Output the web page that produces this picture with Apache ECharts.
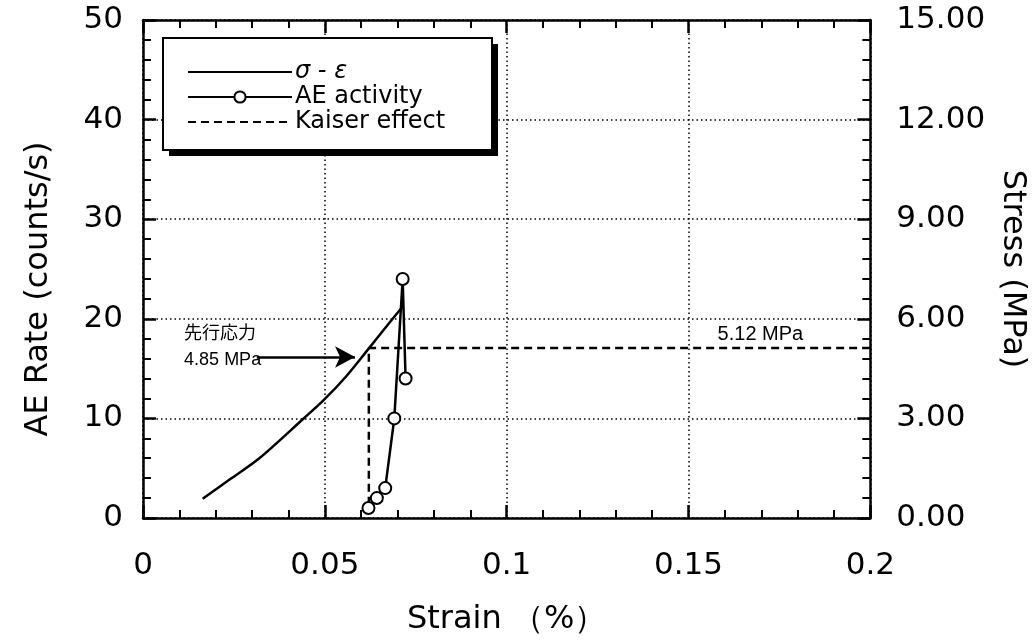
<!DOCTYPE html>
<html>
<head>
<meta charset="utf-8">
<script src="https://cdn.jsdelivr.net/npm/echarts@6/dist/echarts.min.js"></script>
<style>
html,body{margin:0;padding:0;background:#fff;}
#c{width:1036px;height:641px;}
</style>
</head>
<body>
<div id="c"></div>
<script>
// ---- data ----
var stressStrainStrain = [0.0164, 0.0241, 0.0319, 0.0441, 0.0496, 0.0559, 0.0619, 0.0682, 0.0712];
var stressStrainStress = [0.58, 1.18, 1.79, 2.99, 3.54, 4.27, 5.08, 5.94, 6.34];
var aeStrain = [0.0620, 0.0643, 0.0666, 0.0691, 0.0714, 0.0722];
var aeRate = [1, 2, 3, 10, 24, 14];
var kaiserStrain = [0.0621, 0.0621, 0.2];
var kaiserStress = [0.4, 5.12, 5.12];
var xTicks = [0, 0.05, 0.1, 0.15, 0.2];
var leftTicks = [0, 10, 20, 30, 40, 50];
var rightTicks = [0, 3, 6, 9, 12, 15];
var seriesNames = ['σ - ε', 'AE activity', 'Kaiser effect'];
var preStressLabel = ['先行応力', '4.85 MPa'];
var preStress = 4.85;
var kaiserLabel = '5.12 MPa';

function zip(a, b) { return a.map(function (v, i) { return [v, b[i]]; }); }

var FONT = 'DejaVu Sans';
var FS = 31;
var NFS = 32;
var chart = echarts.init(document.getElementById('c'));

var axisCommon = {
  axisLine: { show: true, onZero: false, lineStyle: { color: '#000', width: 2.5 } },
  axisTick: { show: true, inside: true, length: 13, lineStyle: { color: '#000', width: 2.5 } },
  minorTick: { show: true, splitNumber: 5, length: 8, lineStyle: { color: '#000', width: 2 } }
};

chart.setOption({
  animation: false,
  backgroundColor: '#fff',
  grid: { left: 143, right: 159, top: 20, bottom: 113, containLabel: false },
  xAxis: [
    Object.assign({
      type: 'value', position: 'bottom', min: xTicks[0], max: xTicks[xTicks.length - 1], interval: xTicks[1] - xTicks[0],
      axisLabel: { color: '#000', fontSize: FS, fontFamily: FONT, margin: 32 },
      splitLine: { show: true, lineStyle: { color: '#000', width: 1.5, type: [1.5, 3] } },
      name: 'Strain （%）', nameLocation: 'middle', nameGap: 86,
      nameTextStyle: { color: '#000', fontSize: NFS, fontFamily: FONT }
    }, axisCommon),
    Object.assign({
      type: 'value', position: 'top', min: xTicks[0], max: xTicks[xTicks.length - 1], interval: xTicks[1] - xTicks[0],
      axisLabel: { show: false }, splitLine: { show: false }
    }, axisCommon)
  ],
  yAxis: [
    Object.assign({
      type: 'value', position: 'left', min: leftTicks[0], max: leftTicks[leftTicks.length - 1], interval: leftTicks[1] - leftTicks[0],
      axisLabel: { color: '#000', fontSize: FS, fontFamily: FONT, margin: 20 },
      splitLine: { show: true, lineStyle: { color: '#000', width: 1.5, type: [1.5, 3] } },
      name: 'AE Rate (counts/s)', nameLocation: 'middle', nameGap: 88,
      nameTextStyle: { color: '#000', fontSize: NFS, fontFamily: FONT, padding: [0, 0, 0, -40] }
    }, axisCommon),
    Object.assign({
      type: 'value', position: 'right', min: rightTicks[0], max: rightTicks[rightTicks.length - 1], interval: rightTicks[1] - rightTicks[0],
      axisLabel: { color: '#000', fontSize: FS, fontFamily: FONT, margin: 26, formatter: function (v) { return v.toFixed(2); } },
      splitLine: { show: false },
      name: 'Stress (MPa)', nameLocation: 'middle', nameGap: 124, nameRotate: -90,
      nameTextStyle: { color: '#000', fontSize: NFS, fontFamily: FONT }
    }, axisCommon)
  ],
  legend: {
    orient: 'vertical', left: 182, top: 55, itemWidth: 104, itemHeight: 14, itemGap: 1,
    data: [
      { name: seriesNames[0], itemStyle: { opacity: 0 } },
      { name: seriesNames[1] },
      { name: seriesNames[2], itemStyle: { opacity: 0 } }
    ],
    formatter: function (n) { return n === seriesNames[0] ? '{i|' + n + '}' : n; },
    textStyle: { color: '#000', fontSize: 24, fontFamily: FONT, padding: [0, 0, 0, -2],
      rich: { i: { fontStyle: 'italic', fontSize: 24, fontFamily: FONT, color: '#000' } } }
  },
  graphic: [
    { type: 'rect', z: 3, shape: { x: 169, y: 44, width: 329, height: 112 }, style: { fill: '#000' } },
    { type: 'rect', z: 3, shape: { x: 163, y: 38, width: 329, height: 112 }, style: { fill: '#fff', stroke: '#000', lineWidth: 2 } }
  ],
  series: [
    {
      name: seriesNames[0], type: 'line', xAxisIndex: 0, yAxisIndex: 1, symbol: 'none', smooth: 0.3, z: 4,
      data: zip(stressStrainStrain, stressStrainStress),
      lineStyle: { color: '#000', width: 2.5 }, itemStyle: { color: '#000' },
      markLine: {
        silent: true, symbol: ['none', 'arrow'], symbolSize: [16, 20],
        lineStyle: { color: '#000', width: 2.5, type: 'solid' }, label: { show: false },
        data: [[{ coord: [0.0313, preStress] }, { coord: [0.0583, preStress] }]]
      }
    },
    {
      name: seriesNames[1], type: 'line', xAxisIndex: 0, yAxisIndex: 0, symbol: 'circle', symbolSize: 12, z: 6,
      data: zip(aeStrain, aeRate),
      lineStyle: { color: '#000', width: 2.5 },
      itemStyle: { color: '#fff', borderColor: '#000', borderWidth: 2 }
    },
    {
      name: seriesNames[2], type: 'line', xAxisIndex: 0, yAxisIndex: 1, symbol: 'none', z: 4,
      data: zip(kaiserStrain, kaiserStress),
      lineStyle: { color: '#000', width: 2.5, type: [8, 5] }, itemStyle: { color: '#000' }
    }
  ]
});

// annotation texts positioned through the chart's scales
var p1 = chart.convertToPixel({ xAxisIndex: 0, yAxisIndex: 1 }, [0.0113, preStress]);
var p2 = chart.convertToPixel({ xAxisIndex: 0, yAxisIndex: 1 }, [0.158, 5.12]);
chart.setOption({
  graphic: [
    { type: 'rect', z: 3, shape: { x: 169, y: 44, width: 329, height: 112 }, style: { fill: '#000' } },
    { type: 'rect', z: 3, shape: { x: 163, y: 38, width: 329, height: 112 }, style: { fill: '#fff', stroke: '#000', lineWidth: 2 } },
    { type: 'text', z: 5, x: p1[0], y: p1[1] - 25, style: { text: preStressLabel[0], fill: '#000', font: '18px "Noto Sans CJK JP"', textVerticalAlign: 'middle' } },
    { type: 'text', z: 5, x: p1[0], y: p1[1] + 3, style: { text: preStressLabel[1], fill: '#000', font: '18px "Liberation Sans"', textVerticalAlign: 'middle' } },
    { type: 'text', z: 5, x: p2[0], y: p2[1] - 14, style: { text: kaiserLabel, fill: '#000', font: '20px "Liberation Sans"', textVerticalAlign: 'middle' } }
  ]
});
</script>
</body>
</html>
